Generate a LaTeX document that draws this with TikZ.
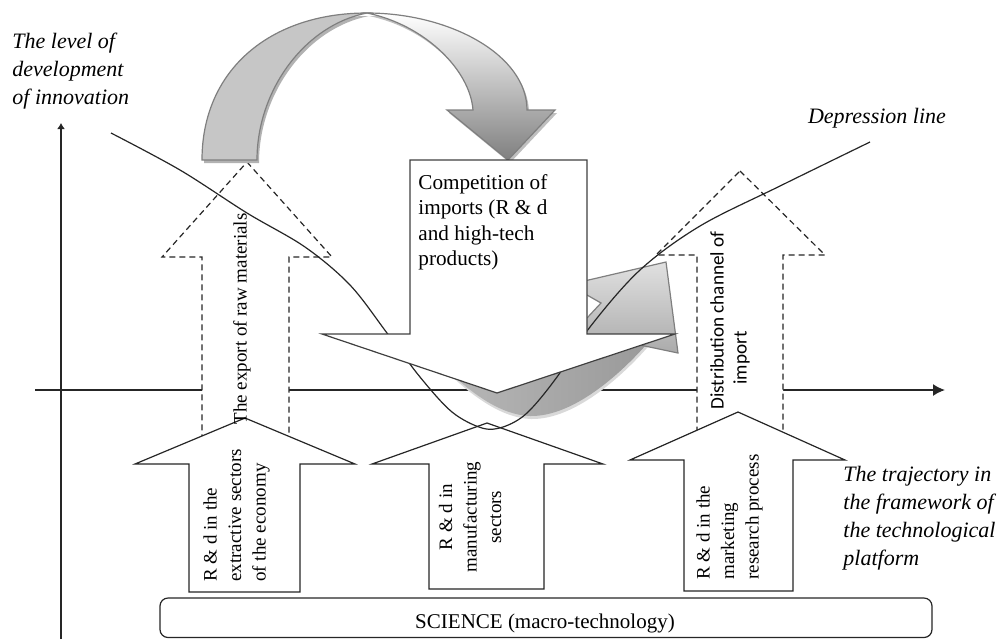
\documentclass[tikz,border=0pt]{standalone}
\usepackage{fontspec}
\setmainfont{Liberation Serif}
\newfontfamily\calibrifont{Carlito}
\usetikzlibrary{arrows.meta}
\definecolor{backgray}{HTML}{C6C6C6}
\definecolor{edgegray}{HTML}{7F7F7F}
\def\lw{0.6pt}
\def\backband{(202,160) .. controls (202,70) and (270,13) .. (367,13)
  .. controls (305,25) and (257,90) .. (257,160) -- cycle}
\def\frontband{(367,13) .. controls (450,13) and (527,55) .. (527,110)
  -- (555,110) -- (508,160) -- (447,110) -- (473,110)
  .. controls (470,70) and (425,25) .. (367,13) -- cycle}
\def\lowband{(445,368) .. controls (470,392) and (500,415) .. (530,416)
  .. controls (575,417) and (625,370) .. (652,338) -- (630,320) -- cycle}
\tikzset{
  upbox/.style={draw=black!85,line width=\lw,fill=white,line join=miter},
  dashbox/.style={upbox,dash pattern=on 3pt off 2pt},
  grayedge/.style={draw=edgegray,line width=\lw},
  axisline/.style={line width=0.8pt,black!85},
  vtext/.style={rotate=90,inner sep=0pt,align=left,
    font=\fontsize{9.5}{12.25}\selectfont},
  itlabel/.style={inner sep=0pt,align=left,
    font=\fontsize{11}{14}\selectfont\itshape}
}

\begin{document}
\begin{tikzpicture}[x=0.5pt,y=-0.5pt,line cap=butt]
\useasboundingbox (0,0) rectangle (1002,639);
% axes
\draw[axisline,-{Latex[length=3pt,width=4pt]}] (61,639) -- (61,123);
\draw[axisline,-{Latex[length=6pt,width=6pt]}] (35,390) -- (945,390);
% dashed arrows: tip x/tip y/head left/head right/head base/shaft left/shaft right/bottom
\foreach \tx/\ty/\hl/\hr/\hb/\sl/\sr/\bt in {247/162/162/332/257/202/289/470,
                                             740/171/656/825/255/697/783/470}{
  \draw[dashbox] (\tx,\ty) -- (\hr,\hb) -- (\sr,\hb) -- (\sr,\bt) -- (\sl,\bt)
    -- (\sl,\hb) -- (\hl,\hb) -- cycle;
}
% solid arrows
\foreach \tx/\ty/\hl/\hr/\hb/\sl/\sr/\bt in {245/418/135/355/464/189/300/592,
                                             487/423/372/603/464/429/544/589,
                                             738/412/630/845/460/684/793/591}{
  \draw[upbox] (\tx,\ty) -- (\hr,\hb) -- (\sr,\hb) -- (\sr,\bt) -- (\sl,\bt)
    -- (\sl,\hb) -- (\hl,\hb) -- cycle;
}
% science box
\draw[upbox,rounded corners=4pt] (160,598) rectangle (932,637.5);
\node[inner sep=0pt,font=\fontsize{10.5}{12}\selectfont] (science) at (545,623)
  {SCIENCE (macro-technology)};
% top curved arrow
\fill[black!30,shift={(2,3)}] \backband;
\fill[black!25,shift={(2,3)}] \frontband;
\path[grayedge,fill=backgray] \backband;
\path[grayedge,top color=white,bottom color=black!50] \frontband;
% lower curved arrow
\fill[black!15,shift={(1,3)}] \lowband;
\path[left color=black!28,middle color=black!46,right color=black!40] \lowband;
\path[grayedge,top color=black!12,bottom color=black!33]
  (580,282) -- (666,262) -- (678,353) -- (640,345) -- (580,335) -- cycle;
\path[grayedge,fill=white] (587,295) -- (601,303) -- (587,318);
% innovation curve
\draw[line width=\lw,black!85] plot[smooth,tension=0.55] coordinates {
  (111,133) (180,170) (247,213) (305,247) (350,285) (387,333) (420,377)
  (452,412) (482,428) (503,427) (527,413) (557,377) (590,327) (640,270)
  (700,226) (780,186) (870,142)};
% competition arrow
\draw[upbox,draw=black!75] (410,160) -- (587,160) -- (587,334) -- (675,334)
  -- (497,393) -- (322,334) -- (410,334) -- cycle;
\node[inner sep=0pt,anchor=north west,align=left,
  font=\fontsize{10.6}{12.75}\selectfont] (competition) at (418,174)
  {Competition of\\imports (R \& d\\and high-tech\\products)};
% labels in the arrows
\node[vtext] (rawexport) at (242,319) {The export of raw materials};
\node[vtext,anchor=north west] (extractive) at (203,582)
  {R \& d in the\\extractive sectors\\of the economy};
\node[vtext,align=center] (manufacturing) at (470,517)
  {R \& d in\\manufacturing\\sectors};
\node[vtext,anchor=north west] (marketing) at (696,580)
  {R \& d in the\\marketing\\research process};
\node[vtext,anchor=north west,font=\calibrifont\fontsize{9.6}{11.5}\selectfont]
  (channel) at (710,410) {Distribution channel of\\\hspace*{12.5pt}import};
% axis labels
\node[itlabel,anchor=north west] (levelaxis) at (12,33)
  {The level of\\development\\of innovation};
\node[itlabel,anchor=north west] (trajectory) at (843,466)
  {The trajectory in\\the framework of\\the technological\\platform};
\node[itlabel] (depression) at (877,118) {Depression line};
\end{tikzpicture}
\end{document}
